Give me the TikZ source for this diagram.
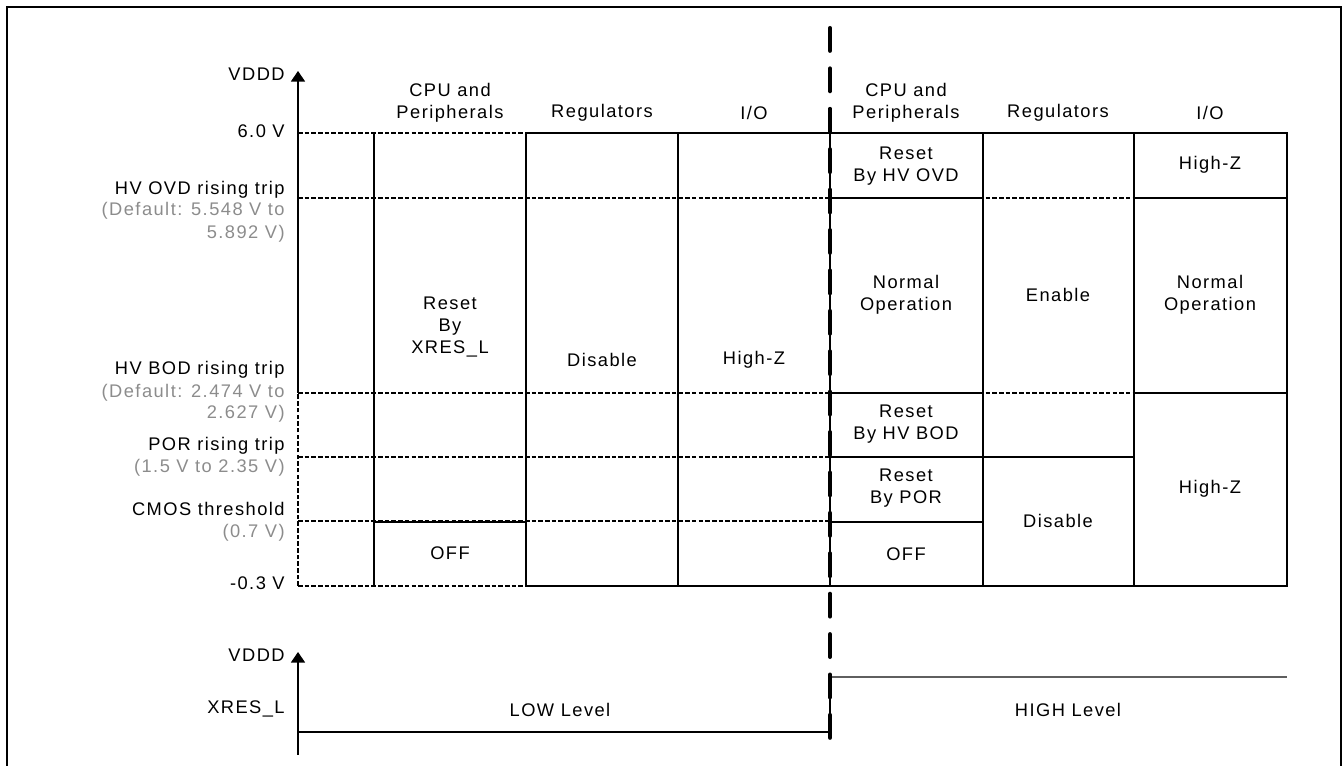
\documentclass[tikz,border=0pt]{standalone}
\usepackage{fontspec}
\setmainfont{Liberation Sans}[LetterSpace=8]
\usetikzlibrary{arrows.meta, positioning, calc}

\definecolor{notegray}{RGB}{140,140,140}
\definecolor{highline}{RGB}{95,95,95}

\tikzset{
  cellline/.style={line width=0.8pt},
  iobox/.style={line width=1.2pt},
  trip/.style={line width=0.6pt, dash pattern=on 2.6pt off 1.2pt},
  divider/.style={line width=2.3pt, line cap=round, dash pattern=on 13pt off 10pt},
  lbl/.style={anchor=mid east, inner sep=0pt},
  note/.style={lbl, text=notegray},
  cell/.style={align=center, inner sep=0pt},
  vaxis/.style={line width=0.7pt, -{Triangle[width=8pt,length=6pt]}},
}

\begin{document}
\begin{tikzpicture}[x=0.02cm, y=-0.02cm, font=\fontsize{10.4}{12.6}\selectfont]
\useasboundingbox (0,0) rectangle (1343,766);

% Frame
\draw[line width=1.2pt] (7,766) -- (7,7) -- (1341,7) -- (1341,766);

% Voltage axis
\draw[vaxis] (298,393) -- (298,71);
\draw[trip] (298,586) -- (298,393);
\node[lbl] (vddd) at (285,76) {VDDD};
\node[lbl] (vmax) at (285,133) {6.0 V};
\node[lbl] (ovd) at (285,190) {HV OVD rising trip};
\node[note] (ovdnote) at (285,211) {(Default: 5.548 V to};
\node[note] (ovdnoteb) at (285,234) {5.892 V)};
\node[lbl] (bod) at (285,370) {HV BOD rising trip};
\node[note] (bodnote) at (285,393) {(Default: 2.474 V to};
\node[note] (bodnoteb) at (285,414) {2.627 V)};
\node[lbl] (por) at (285,446) {POR rising trip};
\node[note] (pornote) at (285,468) {(1.5 V to 2.35 V)};
\node[lbl] (cmos) at (285,511) {CMOS threshold};
\node[note] (cmosnote) at (285,533) {(0.7 V)};
\node[lbl] (vmin) at (285,585) {-0.3 V};

% Trip levels
\foreach \y/\xa/\xb in {133/298/526, 198/298/1134, 393/298/1134,
                        457/298/830, 521/298/830, 586/298/526}
  \draw[trip] (\xa,\y) -- (\xb,\y);

% Table while XRES_L is low
\draw[cellline] (374,133) -- (374,586);
\draw[cellline] (526,133) -- (526,586);
\draw[cellline] (678,133) -- (678,586);
\draw[cellline] (830,133) -- (830,586);
\draw[cellline] (526,133) -- (1134,133);
\draw[cellline] (526,586) -- (1134,586);
\draw[cellline] (374,522) -- (526,522);

% Table while XRES_L is high
\draw[cellline] (983,133) -- (983,586);
\draw[cellline] (830,198) -- (983,198);
\draw[cellline] (830,393) -- (983,393);
\draw[cellline] (830,457) -- (1134,457);
\draw[cellline] (830,522) -- (983,522);
\draw[iobox] (1134,133) rectangle (1287,586);
\draw[iobox] (1134,198) -- (1287,198);
\draw[iobox] (1134,393) -- (1287,393);

% Column heads
\node[cell] (cpul) at (450,103) {CPU and\\Peripherals};
\node[cell] (regl) at (602,113) {Regulators};
\node[cell] (iol) at (754,113) {I/O};
\node[cell] (cpur) at (906,103) {CPU and\\Peripherals};
\node[cell] (regr) at (1058,113) {Regulators};
\node[cell] (ior) at (1210,113) {I/O};

% Cells
\node[cell] (rstx) at (450,327) {Reset\\By\\XRES\_L};
\node[cell] (offl) at (450,553) {OFF};
\node[cell] (disl) at (602,360) {Disable};
\node[cell] (hzl) at (754,360) {High-Z};
\node[cell] (rovd) at (906,166) {Reset\\By HV OVD};
\node[cell] (normc) at (906,295) {Normal\\Operation};
\node[cell] (rbod) at (906,424) {Reset\\By HV BOD};
\node[cell] (rpor) at (906,488) {Reset\\By POR};
\node[cell] (offr) at (906,554) {OFF};
\node[cell] (enab) at (1058,295) {Enable};
\node[cell] (disr) at (1058,521) {Disable};
\node[cell] (hzt) at (1210,165) {High-Z};
\node[cell] (normio) at (1210,295) {Normal\\Operation};
\node[cell] (hzb) at (1210,489) {High-Z};

% XRES_L level
\draw[vaxis] (298,755) -- (298,652);
\node[lbl] (vdddb) at (285,657) {VDDD};
\node[lbl] (xres) at (285,709) {XRES\_L};
\draw[line width=0.8pt] (298,732) -- (830,732) -- (830,677);
\draw[line width=0.8pt, highline] (830,677) -- (1287,677);
\node[cell] (low) at (560,710) {LOW Level};
\node[cell] (high) at (1068,710) {HIGH Level};

% Release of XRES_L
\draw[divider] (830,28) -- (830,755);
\end{tikzpicture}
\end{document}
